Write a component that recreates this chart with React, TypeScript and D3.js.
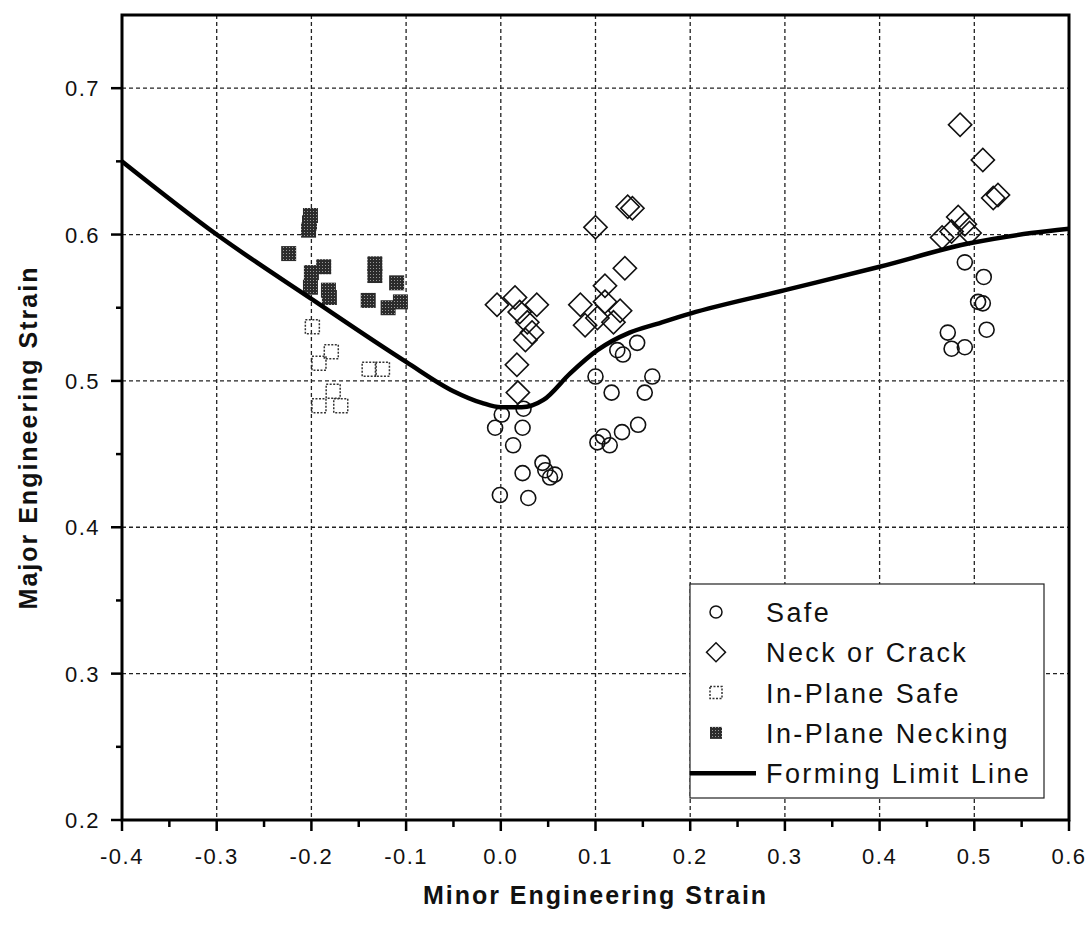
import React, { useRef, useEffect } from 'react';
import * as d3 from 'd3';

// Forming limit line (minor strain, major strain)
const flcMinor = [-0.4, -0.3, -0.2, -0.1, -0.05, -0.02, 0.0, 0.022, 0.045, 0.073, 0.102, 0.136, 0.165, 0.2, 0.3, 0.4, 0.495, 0.56, 0.6];
const flcMajor = [0.65, 0.6, 0.556, 0.513, 0.493, 0.485, 0.482, 0.482, 0.487, 0.505, 0.521, 0.533, 0.539, 0.546, 0.562, 0.578, 0.594, 0.601, 0.604];

// Safe (open circles)
const safeMinor = [0.001, -0.006, 0.023, 0.013, 0.024, 0.023, 0.044, 0.047, 0.052, 0.057, -0.001, 0.029, 0.1, 0.117, 0.123, 0.129, 0.144, 0.16, 0.152, 0.145, 0.128, 0.108, 0.102, 0.115, 0.49, 0.51, 0.504, 0.509, 0.513, 0.472, 0.476, 0.49];
const safeMajor = [0.477, 0.468, 0.468, 0.456, 0.481, 0.437, 0.444, 0.439, 0.434, 0.436, 0.422, 0.42, 0.503, 0.492, 0.521, 0.518, 0.526, 0.503, 0.492, 0.47, 0.465, 0.462, 0.458, 0.456, 0.581, 0.571, 0.554, 0.553, 0.535, 0.533, 0.522, 0.523];

// Neck or crack (open diamonds)
const neckMinor = [-0.004, 0.015, 0.02, 0.038, 0.028, 0.033, 0.026, 0.017, 0.018, 0.1, 0.139, 0.134, 0.131, 0.084, 0.11, 0.126, 0.089, 0.102, 0.119, 0.11, 0.485, 0.509, 0.52, 0.525, 0.483, 0.466, 0.476, 0.495, 0.49];
const neckMajor = [0.552, 0.557, 0.547, 0.552, 0.54, 0.533, 0.528, 0.511, 0.492, 0.605, 0.618, 0.619, 0.577, 0.552, 0.565, 0.548, 0.538, 0.543, 0.54, 0.554, 0.675, 0.651, 0.625, 0.627, 0.612, 0.598, 0.602, 0.601, 0.607];

// In-plane safe (open dotted squares)
const ipSafeMinor = [-0.199, -0.179, -0.192, -0.139, -0.125, -0.192, -0.177, -0.169];
const ipSafeMajor = [0.537, 0.52, 0.512, 0.508, 0.508, 0.483, 0.493, 0.483];

// In-plane necking (filled squares)
const ipNeckMinor = [-0.201, -0.202, -0.203, -0.224, -0.2, -0.201, -0.187, -0.182, -0.181, -0.133, -0.133, -0.14, -0.11, -0.119, -0.106];
const ipNeckMajor = [0.613, 0.608, 0.603, 0.587, 0.574, 0.564, 0.578, 0.562, 0.557, 0.58, 0.572, 0.555, 0.567, 0.55, 0.554];

const xTicks = [-0.4, -0.3, -0.2, -0.1, 0.0, 0.1, 0.2, 0.3, 0.4, 0.5, 0.6];
const xTickLabels = ['-0.4', '-0.3', '-0.2', '-0.1', '0.0', '0.1', '0.2', '0.3', '0.4', '0.5', '0.6'];
const yTicks = [0.2, 0.3, 0.4, 0.5, 0.6, 0.7];
const yTickLabels = ['0.2', '0.3', '0.4', '0.5', '0.6', '0.7'];

const legendLabels = ['Safe', 'Neck or Crack', 'In-Plane Safe', 'In-Plane Necking', 'Forming Limit Line'];

const FONT = 'Arial, "Liberation Sans", Helvetica, sans-serif';

const FormingLimitChart: React.FC = () => {
    const svgRef = useRef<SVGSVGElement | null>(null);

    useEffect(() => {
        if (!svgRef.current) return;
        const width = 1086;
        const height = 926;
        const left = 122, right = 1069, top = 15, bottom = 820;

        const svg = d3.select(svgRef.current)
            .attr('width', width)
            .attr('height', height);
        svg.selectAll('*').remove();

        const x = d3.scaleLinear().domain([-0.4, 0.6]).range([left, right]);
        const y = d3.scaleLinear().domain([0.2, 0.75]).range([bottom, top]);

        // dotted fill for the necking squares
        const defs = svg.append('defs');
        const pat = defs.append('pattern')
            .attr('id', 'dots')
            .attr('width', 3)
            .attr('height', 3)
            .attr('patternUnits', 'userSpaceOnUse');
        pat.append('rect').attr('width', 3).attr('height', 3).attr('fill', '#2b2b2b');
        pat.append('rect').attr('x', 1).attr('y', 1).attr('width', 1).attr('height', 1).attr('fill', '#9a9a9a');

        svg.append('rect').attr('width', width).attr('height', height).attr('fill', 'white');

        // grid
        const grid = svg.append('g').attr('stroke', '#222').attr('stroke-width', 1.3).attr('stroke-dasharray', '4,3');
        grid.selectAll('.vg')
            .data(xTicks.slice(1, -1))
            .enter().append('line')
            .attr('x1', d => x(d)).attr('x2', d => x(d))
            .attr('y1', top).attr('y2', bottom);
        grid.selectAll('.hg')
            .data(yTicks.slice(1))
            .enter().append('line')
            .attr('x1', left).attr('x2', right)
            .attr('y1', d => y(d)).attr('y2', d => y(d));

        // axes ticks (outward)
        const xMinor = d3.range(-0.35, 0.6, 0.1);
        const yMinor = d3.range(0.25, 0.75, 0.1);
        const ticks = svg.append('g').attr('stroke', 'black').attr('stroke-width', 2.5);
        ticks.selectAll('.xt').data(xTicks).enter().append('line')
            .attr('x1', d => x(d)).attr('x2', d => x(d))
            .attr('y1', bottom).attr('y2', bottom + 11);
        ticks.selectAll('.xm').data(xMinor).enter().append('line')
            .attr('x1', d => x(d)).attr('x2', d => x(d))
            .attr('y1', bottom).attr('y2', bottom + 7);
        ticks.selectAll('.yt').data(yTicks).enter().append('line')
            .attr('x1', left - 11).attr('x2', left)
            .attr('y1', d => y(d)).attr('y2', d => y(d));
        ticks.selectAll('.ym').data(yMinor).enter().append('line')
            .attr('x1', left - 6).attr('x2', left)
            .attr('y1', d => y(d)).attr('y2', d => y(d));

        // tick labels
        svg.selectAll('.xl').data(xTicks).enter().append('text')
            .attr('x', d => x(d))
            .attr('y', bottom + 44)
            .attr('text-anchor', 'middle')
            .attr('font-family', FONT)
            .attr('font-size', 22)
            .attr('letter-spacing', 1.5)
            .attr('fill', '#111')
            .text((_, i) => xTickLabels[i]);
        svg.selectAll('.yl').data(yTicks).enter().append('text')
            .attr('x', left - 22)
            .attr('y', d => y(d) + 8)
            .attr('text-anchor', 'end')
            .attr('font-family', FONT)
            .attr('font-size', 22)
            .attr('letter-spacing', 1.5)
            .attr('fill', '#111')
            .text((_, i) => yTickLabels[i]);

        // axis titles
        svg.append('text')
            .attr('x', (left + right) / 2)
            .attr('y', 904)
            .attr('text-anchor', 'middle')
            .attr('font-family', FONT)
            .attr('font-size', 25)
            .attr('font-weight', 'bold')
            .attr('letter-spacing', 2)
            .attr('fill', '#111')
            .text('Minor Engineering Strain');
        svg.append('text')
            .attr('transform', `translate(37, ${(top + bottom) / 2 + 20}) rotate(-90)`)
            .attr('text-anchor', 'middle')
            .attr('font-family', FONT)
            .attr('font-size', 25)
            .attr('font-weight', 'bold')
            .attr('letter-spacing', 2)
            .attr('fill', '#111')
            .text('Major Engineering Strain');

        const plot = svg.append('g');

        // in-plane safe squares
        const sq = 14;
        plot.selectAll('.ips').data(ipSafeMinor).enter().append('rect')
            .attr('x', d => x(d) - sq / 2)
            .attr('y', (_, i) => y(ipSafeMajor[i]) - sq / 2)
            .attr('width', sq).attr('height', sq)
            .attr('fill', 'none')
            .attr('stroke', '#333')
            .attr('stroke-width', 1.5)
            .attr('stroke-dasharray', '2,1.5');

        // in-plane necking squares
        plot.selectAll('.ipn').data(ipNeckMinor).enter().append('rect')
            .attr('x', d => x(d) - (sq + 1) / 2)
            .attr('y', (_, i) => y(ipNeckMajor[i]) - (sq + 1) / 2)
            .attr('width', sq + 1).attr('height', sq + 1)
            .attr('fill', 'url(#dots)');

        // safe circles
        plot.selectAll('.safe').data(safeMinor).enter().append('circle')
            .attr('cx', d => x(d))
            .attr('cy', (_, i) => y(safeMajor[i]))
            .attr('r', 7.5)
            .attr('fill', 'none')
            .attr('stroke', '#111')
            .attr('stroke-width', 1.6);

        // neck or crack diamonds
        const dia = d3.symbol().type(d3.symbolSquare).size(270);
        plot.selectAll('.neck').data(neckMinor).enter().append('path')
            .attr('d', dia)
            .attr('transform', (d, i) => `translate(${x(d)},${y(neckMajor[i])}) rotate(45)`)
            .attr('fill', 'none')
            .attr('stroke', '#111')
            .attr('stroke-width', 1.6);

        // forming limit line
        const line = d3.line<number>()
            .x(d => x(d))
            .y((_, i) => y(flcMajor[i]))
            .curve(d3.curveMonotoneX);
        plot.append('path')
            .datum(flcMinor)
            .attr('d', line)
            .attr('fill', 'none')
            .attr('stroke', 'black')
            .attr('stroke-width', 4.5);

        // frame
        svg.append('rect')
            .attr('x', left).attr('y', top)
            .attr('width', right - left).attr('height', bottom - top)
            .attr('fill', 'none')
            .attr('stroke', 'black')
            .attr('stroke-width', 3);

        // legend
        const lg = svg.append('g');
        lg.append('rect')
            .attr('x', 690).attr('y', 584)
            .attr('width', 354).attr('height', 214)
            .attr('fill', 'white')
            .attr('stroke', '#222')
            .attr('stroke-width', 1.2);
        const rowY = (i: number) => 612 + i * 40.3;
        const sx = 716;
        lg.append('circle').attr('cx', sx).attr('cy', rowY(0)).attr('r', 6)
            .attr('fill', 'none').attr('stroke', '#111').attr('stroke-width', 1.5);
        lg.append('path').attr('d', d3.symbol().type(d3.symbolSquare).size(180))
            .attr('transform', `translate(${sx},${rowY(1)}) rotate(45)`)
            .attr('fill', 'none').attr('stroke', '#111').attr('stroke-width', 1.5);
        lg.append('rect').attr('x', sx - 6).attr('y', rowY(2) - 6).attr('width', 12).attr('height', 12)
            .attr('fill', 'none').attr('stroke', '#333').attr('stroke-width', 1.5).attr('stroke-dasharray', '2,1.5');
        lg.append('rect').attr('x', sx - 6).attr('y', rowY(3) - 6).attr('width', 12).attr('height', 12)
            .attr('fill', 'url(#dots)');
        lg.append('line').attr('x1', 690).attr('x2', 756).attr('y1', rowY(4)).attr('y2', rowY(4))
            .attr('stroke', 'black').attr('stroke-width', 4.5);
        lg.selectAll('.lt').data(legendLabels).enter().append('text')
            .attr('x', 766)
            .attr('y', (_, i) => rowY(i) + 10)
            .attr('font-family', FONT)
            .attr('font-size', 27)
            .attr('letter-spacing', 2.4)
            .attr('fill', '#111')
            .text(d => d);
    }, []);

    return <svg ref={svgRef} style={{ position: 'absolute', left: 0, top: 0 }}></svg>;
};

export default function App() {
    return <FormingLimitChart />;
}
